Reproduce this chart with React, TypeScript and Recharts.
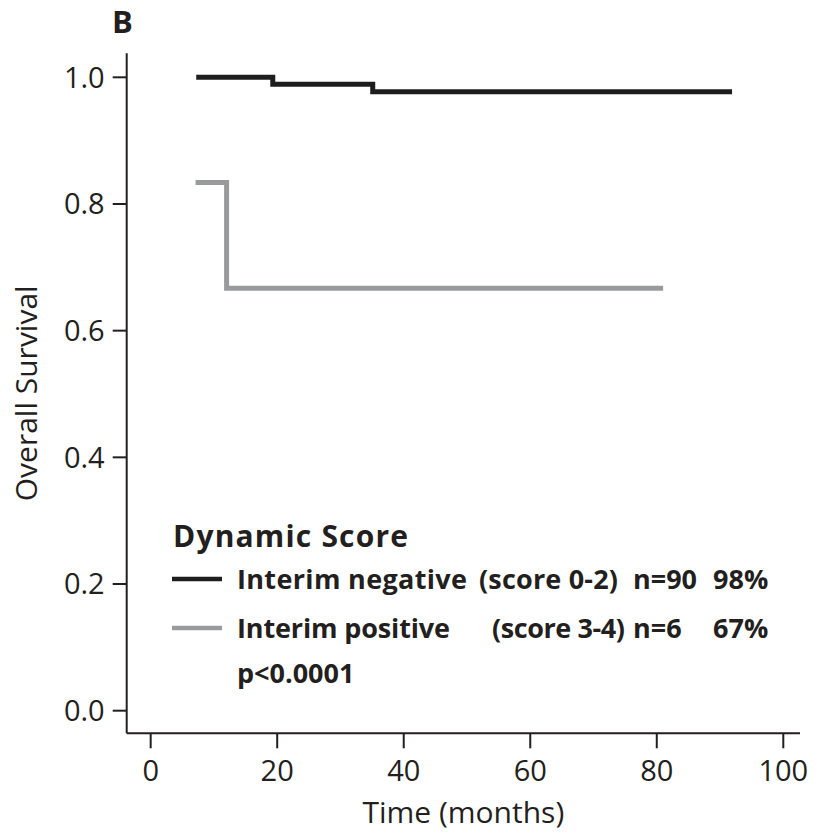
import { Line, LineChart, XAxis, YAxis } from "recharts";

const FONT = "'Open Sans', sans-serif";
const INK = "#231f20";

// Kaplan-Meier step points
const negTimes = [7.2, 19.3, 35.1, 91.9];
const negSurvival = [1.0, 0.989, 0.977, 0.977];
const posTimes = [7.1, 12.0, 81.0];
const posSurvival = [0.834, 0.667, 0.667];

const xTicks = [0, 20, 40, 60, 80, 100];
const yTicks = [0, 0.2, 0.4, 0.6, 0.8, 1.0];

const seriesNames = ["Interim negative", "Interim positive"];
const seriesScores = ["(score 0-2)", "(score 3-4)"];
const seriesN = ["n=90", "n=6"];
const seriesPct = ["98%", "67%"];
const seriesColors = ["#1e1e1e", "#999a9c"];

const negData = negTimes.map((t, i) => ({ t, s: negSurvival[i] }));
const posData = posTimes.map((t, i) => ({ t, s: posSurvival[i] }));

const W = 818;
const H = 836;

export default function App() {
  // legend layout, page pixels
  const rowBaselines = [589, 638];
  const lineYs = [579, 628];
  const scoreX = [479, 492];
  const scoreLen = [139, 133];
  const nameLen = [230, 213];

  return (
    <div
      style={{
        position: "relative",
        width: W,
        height: H,
        margin: -8,
        fontFamily: FONT,
      }}
    >
      <LineChart
        width={W}
        height={H}
        margin={{ top: 53.3, right: 18, bottom: 2.7, left: 46.7 }}
        style={{ fontFamily: FONT }}
      >
        <XAxis
          type="number"
          dataKey="t"
          domain={[-3.79, 102.64]}
          allowDataOverflow
          ticks={xTicks}
          height={100}
          tickSize={15}
          tickMargin={12}
          axisLine={{ stroke: INK, strokeWidth: 2 }}
          tickLine={{ stroke: INK, strokeWidth: 2 }}
          tick={{ fill: INK, fontSize: 29, fontFamily: FONT }}
          label={{
            value: "Time (months)",
            position: "insideBottom",
            offset: 10,
            style: { fill: INK, fontSize: 30, fontFamily: FONT },
          }}
        />
        <YAxis
          type="number"
          dataKey="s"
          domain={[-0.0357, 1.0379]}
          allowDataOverflow
          ticks={yTicks}
          width={80}
          tickSize={14}
          tickMargin={8}
          tickFormatter={(v) => v.toFixed(1)}
          axisLine={{ stroke: INK, strokeWidth: 2 }}
          tickLine={{ stroke: INK, strokeWidth: 2 }}
          tick={{ fill: INK, fontSize: 29, fontFamily: FONT }}
          label={{
            value: "Overall Survival",
            angle: -90,
            position: "insideLeft",
            offset: -20,
            style: { fill: INK, fontSize: 30, fontFamily: FONT, textAnchor: "middle" },
          }}
        />
        <Line
          data={negData}
          dataKey="s"
          type="stepAfter"
          stroke={seriesColors[0]}
          strokeWidth={5}
          strokeLinejoin="miter"
          strokeLinecap="butt"
          dot={false}
          activeDot={false}
          isAnimationActive={false}
        />
        <Line
          data={posData}
          dataKey="s"
          type="stepAfter"
          stroke={seriesColors[1]}
          strokeWidth={5}
          strokeLinejoin="miter"
          strokeLinecap="butt"
          dot={false}
          activeDot={false}
          isAnimationActive={false}
        />
      </LineChart>

      <svg
        width={W}
        height={H}
        style={{ position: "absolute", left: 0, top: 0, pointerEvents: "none" }}
      >
        <text x={112} y={33} fontSize={31} fontWeight={700} fill={INK}>
          B
        </text>
        <g fontSize={27} fontWeight={700} fill={INK}>
          <text x={173} y={547} fontSize={30} textLength={235}>
            Dynamic Score
          </text>
          {seriesNames.map((name, i) => (
            <g key={name}>
              <line
                x1={172}
                x2={222}
                y1={lineYs[i]}
                y2={lineYs[i]}
                stroke={seriesColors[i]}
                strokeWidth={4.5}
              />
              <text x={237} y={rowBaselines[i]} textLength={nameLen[i]}>
                {name}
              </text>
              <text x={scoreX[i]} y={rowBaselines[i]} textLength={scoreLen[i]}>
                {seriesScores[i]}
              </text>
              <text x={633} y={rowBaselines[i]}>{seriesN[i]}</text>
              <text x={713} y={rowBaselines[i]}>{seriesPct[i]}</text>
            </g>
          ))}
          <text x={237} y={683}>p&lt;0.0001</text>
        </g>
      </svg>
    </div>
  );
}
